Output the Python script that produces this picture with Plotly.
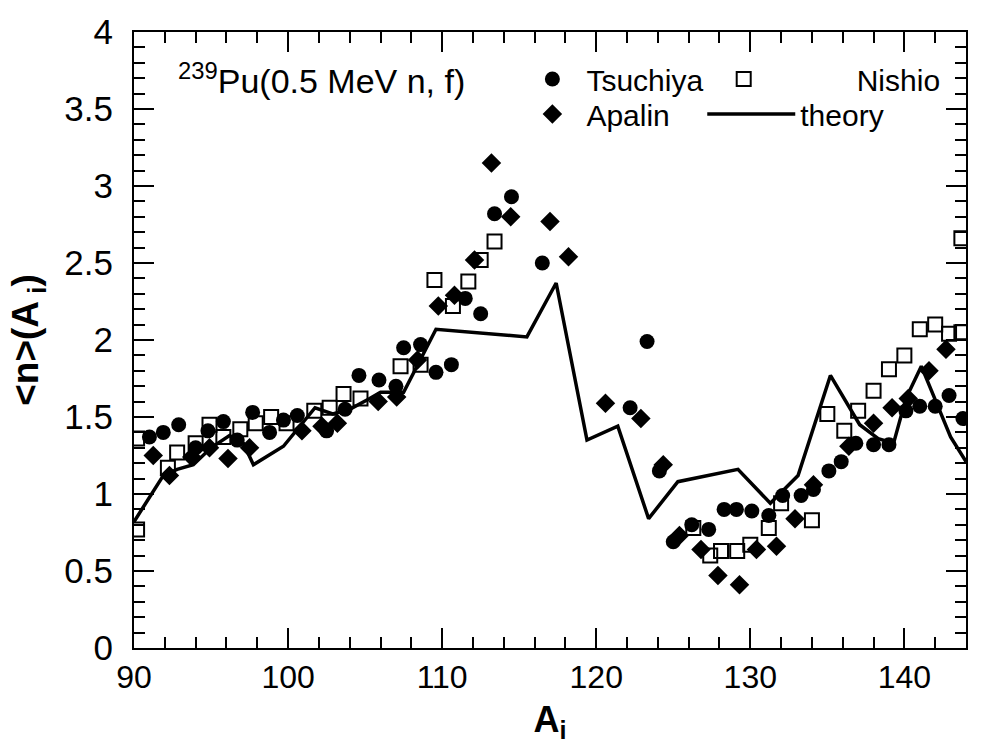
import plotly.graph_objects as go

# ---- data ----
tsu_x = [91.0, 91.9, 92.9, 94.0, 94.8, 95.8, 96.7, 97.7, 98.8, 99.7, 100.6, 102.5, 103.7, 104.6,
         105.9, 107.0, 107.5, 108.6, 109.6, 110.6, 111.5, 112.5, 113.4, 114.5, 116.5, 122.2, 123.3,
         124.1, 125.0, 126.2, 127.3, 128.3, 129.1, 130.1, 131.2, 132.1, 133.3, 134.1, 135.1, 135.9,
         136.85, 138.0, 139.0, 140.1, 141.0, 142.0, 142.9, 143.8]
tsu_y = [1.37, 1.40, 1.45, 1.30, 1.41, 1.47, 1.35, 1.53, 1.40, 1.48, 1.51, 1.41, 1.55, 1.77,
         1.74, 1.70, 1.95, 1.97, 1.79, 1.84, 2.27, 2.17, 2.82, 2.93, 2.50, 1.56, 1.99,
         1.15, 0.69, 0.80, 0.77, 0.90, 0.90, 0.89, 0.86, 0.99, 0.99, 1.03, 1.15, 1.21,
         1.33, 1.32, 1.32, 1.54, 1.57, 1.57, 1.64, 1.49]

nis_x = [90.2, 90.2, 92.2, 92.8, 94.0, 94.9, 95.8, 96.9, 97.9, 98.9, 99.9, 101.7, 102.7, 103.6,
         104.7, 107.3, 108.6, 109.5, 110.7, 111.7, 112.5, 113.4, 126.3, 127.4, 128.1, 129.15,
         130.0, 131.2, 132.0, 134.0, 135.0, 136.1, 137.0, 138.0, 139.0, 140.0, 141.0, 142.0,
         142.9, 143.7, 143.7]
nis_y = [1.36, 0.77, 1.17, 1.27, 1.33, 1.45, 1.37, 1.42, 1.46, 1.50, 1.46, 1.54, 1.56, 1.65,
         1.62, 1.83, 1.84, 2.39, 2.22, 2.38, 2.52, 2.64, 0.78, 0.60, 0.63, 0.63,
         0.67, 0.78, 0.94, 0.83, 1.52, 1.41, 1.54, 1.67, 1.81, 1.90, 2.07, 2.10,
         2.04, 2.05, 2.66]

apa_x = [91.25, 92.3, 93.75, 94.9, 96.1, 97.5, 100.9, 102.2, 103.2, 105.85, 107.05, 108.4, 109.75,
         110.8, 112.1, 113.2, 114.45, 117.0, 118.2, 120.6, 122.9, 124.35, 125.4, 126.8, 127.9,
         129.3, 130.4, 131.7, 132.9, 134.1, 136.4, 138.0, 139.2, 140.25, 141.6, 142.7]
apa_y = [1.25, 1.12, 1.24, 1.30, 1.23, 1.30, 1.41, 1.44, 1.46, 1.60, 1.63, 1.87, 2.22,
         2.29, 2.52, 3.15, 2.80, 2.77, 2.54, 1.59, 1.49, 1.19, 0.73, 0.64, 0.47,
         0.41, 0.64, 0.66, 0.84, 1.06, 1.31, 1.46, 1.56, 1.62, 1.80, 1.94]

th_x = [90.0, 91.9, 92.8, 93.85, 95.0, 96.2, 97.1, 97.75, 99.7, 101.75, 102.9, 104.0, 105.3, 106.0,
        107.5, 109.6, 115.5, 117.4, 119.4, 121.4, 123.4, 125.3, 129.2, 131.3, 133.1, 135.2, 137.1,
        138.3, 139.3, 140.1, 141.1, 143.0, 144.0]
th_y = [0.82, 1.12, 1.16, 1.19, 1.30, 1.38, 1.33, 1.19, 1.31, 1.56, 1.52, 1.55, 1.62, 1.66,
        1.66, 2.07, 2.02, 2.37, 1.35, 1.44, 0.84, 1.08, 1.16, 0.94, 1.12, 1.77, 1.45,
        1.36, 1.33, 1.62, 1.83, 1.37, 1.21]

FONT = "Liberation Sans, Arial, Helvetica, sans-serif"

fig = go.Figure()
fig.add_trace(go.Scatter(x=tsu_x, y=tsu_y, mode="markers", name="Tsuchiya", legend="legend",
                         marker=dict(symbol="circle", size=15, color="black")))
fig.add_trace(go.Scatter(x=nis_x, y=nis_y, mode="markers", name="Nishio", legend="legend2",
                         marker=dict(symbol="square-open", size=14, color="black",
                                     line=dict(width=2, color="black"))))
fig.add_trace(go.Scatter(x=apa_x, y=apa_y, mode="markers", name="Apalin", legend="legend3",
                         marker=dict(symbol="diamond", size=15, color="black")))
fig.add_trace(go.Scatter(x=th_x, y=th_y, mode="lines", name="theory", legend="legend4",
                         line=dict(color="black", width=3.5)))

axis_common = dict(showline=True, linecolor="black", linewidth=2, mirror="ticks",
                   ticks="inside", ticklen=20, tickwidth=1.5, tickcolor="black",
                   showgrid=False, zeroline=False)

fig.update_xaxes(range=[90, 144], tick0=90, dtick=10,
                 tickfont=dict(family=FONT, size=32, color="black"),
                 minor=dict(dtick=2, ticks="inside", ticklen=11, tickwidth=1.5, tickcolor="black",
                            showgrid=False),
                 title=dict(text="<b>A<sub>i</sub></b>", font=dict(family=FONT, size=36, color="black"),
                            standoff=12),
                 **axis_common)
fig.update_yaxes(range=[0, 4], tick0=0, dtick=0.5, ticklabelstandoff=12,
                 tickfont=dict(family=FONT, size=35, color="black"),
                 minor=dict(dtick=0.1, ticks="inside", ticklen=11, tickwidth=1.5, tickcolor="black",
                            showgrid=False),
                 title=dict(text="<b>&lt;n&gt;(A<sub> i</sub>)</b>",
                            font=dict(family=FONT, size=37, color="black"), standoff=14),
                 **axis_common)

fig.add_annotation(xref="paper", yref="paper", x=0.05, y=0.925, xanchor="left", yanchor="middle",
                   text="<sup>239</sup>Pu(0.5 MeV n, f)", showarrow=False,
                   font=dict(family=FONT, size=34, color="black"))

legend_common = dict(bgcolor="rgba(0,0,0,0)", orientation="v", tracegroupgap=0,
                     xanchor="left", yanchor="top",
                     font=dict(family=FONT, size=30, color="black"))

fig.update_layout(
    width=982, height=748,
    margin=dict(l=134, r=16, t=22, b=100),
    paper_bgcolor="white", plot_bgcolor="white",
    showlegend=True,
    legend=dict(x=0.462, y=0.966, itemwidth=58, **legend_common),
    legend2=dict(x=0.597, y=0.966, itemwidth=216, **legend_common),
    legend3=dict(x=0.462, y=0.909, itemwidth=58, **legend_common),
    legend4=dict(x=0.683, y=0.909, itemwidth=88, **legend_common),
)

fig.write_html("out.html")
